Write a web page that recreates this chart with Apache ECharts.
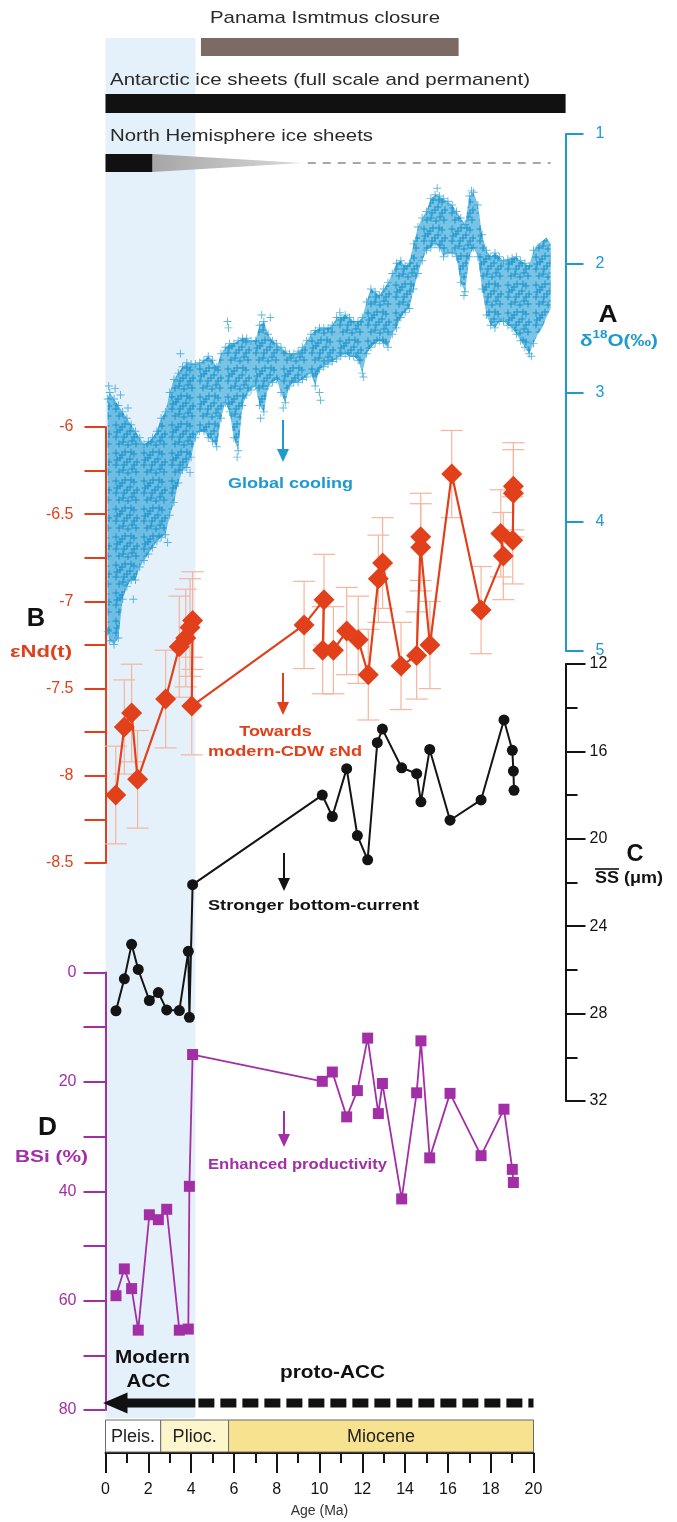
<!DOCTYPE html>
<html>
<head>
<meta charset="utf-8">
<script src="https://cdn.jsdelivr.net/npm/echarts/dist/echarts.min.js"></script>
<style>
html,body{margin:0;padding:0;background:#ffffff;}
#chart{width:677px;height:1522px;}
</style>
</head>
<body>
<div id="chart"></div>
<script>
// ================= DATA =================
// A: benthic d18O cloud (upper / lower envelope of the point cloud, per age)
const d18Age = [0.1,0.2,0.4,0.6,0.8,1.0,1.2,1.4,1.6,1.8,2.0,2.2,2.4,2.6,2.8,3.0,3.2,3.4,3.6,3.8,4.0,4.2,4.4,4.6,4.8,5.0,5.2,5.4,5.6,5.8,6.0,6.2,6.4,6.6,6.8,7.0,7.2,7.4,7.6,7.8,8.0,8.2,8.4,8.6,8.8,9.0,9.2,9.4,9.6,9.8,10.0,10.2,10.4,10.6,10.8,11.0,11.2,11.4,11.6,11.8,12.0,12.2,12.4,12.6,12.8,13.0,13.2,13.4,13.6,13.8,14.0,14.2,14.4,14.6,14.8,15.0,15.2,15.4,15.6,15.8,16.0,16.2,16.4,16.6,16.8,17.0,17.2,17.4,17.6,17.8,18.0,18.2,18.4,18.6,18.8,19.0,19.2,19.4,19.6,19.8,20.0,20.2,20.4,20.6,20.8];
const d18Hi  = [3.05,3.0,3.05,3.1,3.15,3.2,3.25,3.3,3.35,3.4,3.38,3.35,3.3,3.2,3.15,3.0,2.9,2.85,2.8,2.77,2.78,2.78,2.77,2.75,2.72,2.75,2.8,2.7,2.65,2.62,2.62,2.6,2.58,2.58,2.6,2.6,2.48,2.45,2.55,2.6,2.62,2.65,2.68,2.7,2.7,2.68,2.65,2.6,2.55,2.52,2.5,2.5,2.5,2.48,2.42,2.42,2.4,2.42,2.45,2.45,2.42,2.3,2.2,2.22,2.25,2.2,2.15,2.08,2.0,1.98,2.02,2.0,1.85,1.72,1.65,1.6,1.5,1.47,1.48,1.5,1.52,1.55,1.6,1.65,1.7,1.48,1.45,1.55,1.78,1.9,1.95,1.92,1.95,1.98,1.97,1.96,1.95,1.98,2.0,2.02,1.9,1.85,1.83,1.8,1.85];
const d18Lo  = [4.85,4.92,4.95,4.9,4.6,4.5,4.45,4.45,4.35,4.3,4.25,4.2,4.15,4.12,4.1,3.95,3.85,3.7,3.6,3.58,3.5,3.35,3.3,3.3,3.35,3.38,3.42,3.2,3.08,3.15,3.35,3.45,3.1,3.02,2.98,2.95,3.1,3.15,2.95,2.92,2.9,3.0,3.08,2.95,2.92,2.92,2.9,2.88,2.85,2.95,2.82,2.8,2.78,2.76,2.74,2.72,2.7,2.72,2.72,2.75,2.85,2.7,2.65,2.62,2.6,2.62,2.65,2.55,2.5,2.42,2.38,2.35,2.2,2.08,1.98,1.9,1.88,1.85,1.88,1.95,1.92,1.92,1.95,2.15,2.22,1.95,1.88,1.95,2.2,2.4,2.48,2.5,2.45,2.45,2.48,2.5,2.55,2.6,2.65,2.7,2.62,2.55,2.5,2.42,2.35];
const d18Out = [[0.15,2.95],[0.45,2.97],[0.7,3.02],[1.05,3.12],[3.5,2.7],[5.7,2.45],[5.75,2.5],[7.3,2.4],[7.7,2.42],[7.25,3.2],[8.3,3.12],[10.0,3.0],[10.05,3.06],[10.95,2.38],[12.05,2.88],[15.5,1.42],[16.75,2.25],[17.1,1.44],[19.9,2.72],[20.5,1.78],[0.3,5.05],[0.55,5.02],[1.3,4.6],[2.9,4.16],[6.15,3.5],[3.95,3.62]];

// B: eNd(t) with 2-sigma error
const ndAge = [0.48,0.88,1.22,1.50,2.81,3.45,3.75,3.95,4.07,4.03,9.28,10.21,10.15,10.65,11.27,11.81,12.28,12.75,12.95,13.81,14.54,14.73,14.73,15.16,16.18,17.55,18.59,18.47,19.03,19.06,19.06];
const ndVal = [-8.11,-7.72,-7.64,-8.02,-7.56,-7.26,-7.21,-7.15,-7.11,-7.60,-7.135,-6.99,-7.28,-7.28,-7.17,-7.22,-7.42,-6.87,-6.78,-7.37,-7.31,-6.63,-6.69,-7.25,-6.27,-7.05,-6.74,-6.61,-6.65,-6.38,-6.34];
const ndErr = [0.28,0.27,0.28,0.28,0.28,0.29,0.28,0.28,0.28,0.28,0.25,0.26,0.25,0.25,0.25,0.25,0.26,0.25,0.26,0.25,0.25,0.25,0.25,0.25,0.25,0.25,0.25,0.25,0.25,0.25,0.25];

// C: mean sortable silt (um)
const ssAge = [0.49,0.88,1.22,1.53,2.05,2.47,2.86,3.45,3.87,3.92,4.07,10.13,10.6,11.27,11.77,12.25,12.7,12.94,13.84,14.54,14.74,15.15,16.1,17.55,18.62,19.01,19.06,19.09];
const ssVal = [27.87,26.41,24.83,25.98,27.4,27.04,27.83,27.86,25.15,28.17,22.1,18.0,18.98,16.79,19.85,20.96,15.6,14.98,16.75,17.02,18.31,15.91,19.15,18.22,14.56,15.95,16.9,17.78];

// D: biogenic silica (%)
const bsiAge = [0.49,0.88,1.22,1.53,2.05,2.47,2.86,3.45,3.87,3.92,4.07,10.13,10.6,11.27,11.77,12.25,12.75,12.94,13.84,14.54,14.74,15.15,16.1,17.55,18.62,19.01,19.06];
const bsiVal = [59.1,54.2,57.8,65.4,44.3,45.2,43.3,65.4,65.2,39.1,15.0,19.9,18.2,26.4,21.6,12.0,25.8,20.3,41.4,22.0,12.5,33.9,22.1,33.5,25.0,36.0,38.4];

// Events / epochs (ages in Ma)
const epochNames = ['Pleis.','Plioc.','Miocene'];
const epochStart = [0,2.58,5.75];
const epochEnd   = [2.58,5.75,20];
const panamaRange = [4.46,16.5];
const antarcticRange = [0,21.5];
const nhSolid = [0,2.2];
const nhFade = [2.2,9.17];
const nhDash = [9.17,20.8];
const shadeRange = [0,4.2];
const accModern = [0,4.2];
const accProto = [4.2,20];
const ageTickInterval = 2;

// ================= STYLE =================
const FF = '"Liberation Sans", Arial, Helvetica, sans-serif';
const BLUE = '#1e9ad0', ORANGE = '#e2401b', PURPLE = '#a32fa7', BLACK = '#141414', EB = '#f5b59c';
const L = 105.5, W = 428;

// cross texture tile for the dense d18O cloud (pure styling)
const tile = document.createElement('canvas'); tile.width = 28; tile.height = 28;
(function(){
  const tc = tile.getContext('2d');
  tc.fillStyle = 'rgba(18,140,200,0.95)';
  const spots = [[4,5],[13,4],[22,6],[8,10],[18,11],[25,14],[4,17],[12,17],[20,21],[7,24],[15,14],[24,24],[10,7],[5,12],[16,25],[22,17],[11,22],[19,4]];
  spots.forEach(function(p){ tc.fillRect(p[0]-3.5,p[1]-0.5,7,1); tc.fillRect(p[0]-0.5,p[1]-3.5,1,7); });
})();

const chart = echarts.init(document.getElementById('chart'), null, {renderer:'canvas', width:677, height:1522});

function grid(top, height){ return {left:L, width:W, top:top, height:height, outerBoundsMode:'none', containLabel:false, show:false}; }
const grids = [grid(0,1453), grid(134,517), grid(427,436), grid(664,437), grid(972.5,437.5), grid(1420,33)];

const xAxes = [];
for (let i = 0; i < 5; i++) xAxes.push({gridIndex:i, type:'value', min:0, max:20, show:false});
xAxes.push({
  gridIndex:5, type:'value', min:0, max:20, interval:ageTickInterval, position:'bottom',
  axisLine:{show:true, onZero:false, lineStyle:{color:BLACK, width:2}},
  axisTick:{show:true, length:20, lineStyle:{color:BLACK, width:2}},
  minorTick:{show:true, splitNumber:2, length:10, lineStyle:{color:BLACK, width:2}},
  axisLabel:{show:true, margin:29, color:BLACK, fontSize:16, fontFamily:FF},
  splitLine:{show:false}, minorSplitLine:{show:false},
  name:'Age (Ma)', nameLocation:'middle', nameGap:51,
  nameTextStyle:{fontSize:14, color:'#333', fontFamily:FF}
});

function yax(o){
  const c = o.color;
  const ax = Object.assign({
    type:'value', splitLine:{show:false},
    axisLine:{show:true, onZero:false, lineStyle:{color:c, width:2}},
    axisTick:{show:true, length:o.tick, lineStyle:{color:c, width:2}},
    axisLabel:{show:true, margin:o.margin, color:c, fontSize:16, fontFamily:FF}
  }, o.extra);
  if (o.fmt) ax.axisLabel.formatter = o.fmt;
  return ax;
}
const yAxes = [
  {gridIndex:0, type:'value', min:0, max:1, show:false},
  yax({color:BLUE, tick:18, margin:30, extra:{gridIndex:1, min:1, max:5, interval:1, inverse:true, position:'right', offset:32}}),
  yax({color:ORANGE, tick:21, margin:32, fmt:function(v){ return Math.abs(v*2-Math.round(v*2))<1e-6 ? String(v) : ''; }, extra:{gridIndex:2, min:-8.5, max:-6, interval:0.25, position:'left', offset:0}}),
  yax({color:BLACK, tick:20, margin:24, extra:{gridIndex:3, min:12, max:32, interval:4, inverse:true, position:'right', offset:32,
      minorTick:{show:true, splitNumber:2, length:12, lineStyle:{color:BLACK, width:2}}, minorSplitLine:{show:false}}}),
  yax({color:PURPLE, tick:22, margin:29, fmt:function(v){ return (Math.round(v)%20===0) ? String(v) : ''; }, extra:{gridIndex:4, min:0, max:80, interval:10, inverse:true, position:'left', offset:0}}),
  {gridIndex:5, type:'value', min:0, max:1, show:false}
];

const crossPath = 'path://M4.4,0H5.6V10H4.4ZM0,4.4H10V5.6H0Z';
const series = [];

// shaded "modern ACC" interval
series.push({
  type:'custom', xAxisIndex:0, yAxisIndex:0, silent:true, z:-1,
  data:[[shadeRange[0], shadeRange[1]]],
  renderItem:function(p, api){
    const x0 = api.coord([api.value(0),0])[0], x1 = api.coord([api.value(1),0])[0];
    return {type:'rect', shape:{x:x0, y:38, width:x1-x0, height:1380}, style:{fill:'#e4f0fa'}};
  }
});

// event bars on top
series.push({
  type:'custom', xAxisIndex:0, yAxisIndex:0, silent:true, z:3,
  data:[[panamaRange[0],panamaRange[1],0],[antarcticRange[0],antarcticRange[1],1],[nhSolid[0],nhSolid[1],2],[nhFade[0],nhFade[1],3],[nhDash[0],nhDash[1],4]],
  renderItem:function(p, api){
    const x0 = api.coord([api.value(0),0])[0], x1 = api.coord([api.value(1),0])[0], k = api.value(2);
    if (k===0) return {type:'rect', shape:{x:x0, y:38, width:x1-x0, height:18}, style:{fill:'#7b6b64'}};
    if (k===1) return {type:'rect', shape:{x:x0, y:94, width:x1-x0, height:19}, style:{fill:'#111111'}};
    if (k===2) return {type:'rect', shape:{x:x0, y:154, width:x1-x0, height:18}, style:{fill:'#111111'}};
    if (k===3) return {type:'polygon', shape:{points:[[x0,154],[x1,163],[x0,172]]},
      style:{fill:new echarts.graphic.LinearGradient(0,0,1,0,[{offset:0,color:'#a6a6a6'},{offset:1,color:'#d9d9d9'}])}};
    return {type:'line', shape:{x1:x0+6, y1:163, x2:x1, y2:163}, style:{stroke:'#8a8a8a', lineWidth:1.5, lineDash:[8,7]}};
  }
});

// epoch boxes
const epochFill = ['#ffffff','#fdf5cc','#f7e28f'];
series.push({
  type:'custom', xAxisIndex:5, yAxisIndex:5, silent:true, z:3,
  data: epochNames.map(function(n,i){ return [epochStart[i], epochEnd[i], i]; }),
  renderItem:function(p, api){
    const i = api.value(2);
    const x0 = api.coord([api.value(0),0])[0], x1 = api.coord([api.value(1),0])[0];
    return {type:'group', children:[
      {type:'rect', shape:{x:x0, y:1420, width:x1-x0, height:32}, style:{fill:epochFill[i], stroke:'#6b6b6b', lineWidth:1}},
      {type:'text', x:(x0+x1)/2, y:1437, style:{text:epochNames[i], font:'18px '+FF, fill:'#222', textAlign:'center', textVerticalAlign:'middle'}}
    ]};
  }
});

// d18O cloud body (envelope polygon, tint + cross texture)
series.push({
  type:'custom', xAxisIndex:1, yAxisIndex:1, silent:true, z:2,
  data:[[10,3]],
  renderItem:function(p, api){
    const pts = [];
    for (let i=0;i<d18Age.length;i++) pts.push(api.coord([d18Age[i], d18Hi[i]]));
    for (let i=d18Age.length-1;i>=0;i--) pts.push(api.coord([d18Age[i], d18Lo[i]]));
    return {type:'group', children:[
      {type:'polygon', shape:{points:pts}, style:{fill:'rgba(32,156,212,0.6)'}},
      {type:'polygon', shape:{points:pts}, style:{fill:{image:tile, repeat:'repeat'}}}
    ]};
  }
});
// d18O crosses on the fringe
const d18Pts = d18Age.map(function(a,i){ return [a, d18Hi[i]]; })
  .concat(d18Age.map(function(a,i){ return [a, d18Lo[i]]; }))
  .concat(d18Out);
series.push({
  type:'scatter', xAxisIndex:1, yAxisIndex:1, z:3, silent:true,
  symbol:crossPath, symbolSize:8, data:d18Pts,
  itemStyle:{color:BLUE, opacity:0.7}
});

// eNd error bars
series.push({
  type:'custom', xAxisIndex:2, yAxisIndex:2, silent:true, z:3,
  data: ndAge.map(function(a,i){ return [a, ndVal[i]-ndErr[i], ndVal[i]+ndErr[i]]; }),
  renderItem:function(p, api){
    const a = api.coord([api.value(0), api.value(1)]), b = api.coord([api.value(0), api.value(2)]);
    const hw = 11, st = {stroke:EB, lineWidth:1.2};
    return {type:'group', children:[
      {type:'line', shape:{x1:a[0],y1:a[1],x2:b[0],y2:b[1]}, style:st},
      {type:'line', shape:{x1:a[0]-hw,y1:a[1],x2:a[0]+hw,y2:a[1]}, style:st},
      {type:'line', shape:{x1:b[0]-hw,y1:b[1],x2:b[0]+hw,y2:b[1]}, style:st}
    ]};
  }
});
// eNd line
series.push({
  type:'line', xAxisIndex:2, yAxisIndex:2, z:5, silent:true, clip:false,
  data: ndAge.map(function(a,i){ return [a, ndVal[i]]; }),
  symbol:'diamond', symbolSize:21, showAllSymbol:true,
  itemStyle:{color:ORANGE}, lineStyle:{color:ORANGE, width:2.2}
});
// SS line
series.push({
  type:'line', xAxisIndex:3, yAxisIndex:3, z:5, silent:true, clip:false,
  data: ssAge.map(function(a,i){ return [a, ssVal[i]]; }),
  symbol:'circle', symbolSize:11, showAllSymbol:true,
  itemStyle:{color:BLACK}, lineStyle:{color:BLACK, width:2}
});
// BSi line
series.push({
  type:'line', xAxisIndex:4, yAxisIndex:4, z:5, silent:true, clip:false,
  data: bsiAge.map(function(a,i){ return [a, bsiVal[i]]; }),
  symbol:'rect', symbolSize:11, showAllSymbol:true,
  itemStyle:{color:PURPLE}, lineStyle:{color:PURPLE, width:1.8}
});
// ACC arrow (modern solid, proto dashed)
series.push({
  type:'custom', xAxisIndex:4, yAxisIndex:4, silent:true, z:6,
  data:[[accModern[0], accModern[1], accProto[1]]],
  renderItem:function(p, api){
    const X0 = api.coord([api.value(0),0])[0], X1 = api.coord([api.value(1),0])[0], X2 = api.coord([api.value(2),0])[0];
    const Y = 1403;
    return {type:'group', children:[
      {type:'polygon', shape:{points:[[X0-2.5,Y],[X0+22,Y-10.5],[X0+22,Y+10.5]]}, style:{fill:'#111'}},
      {type:'rect', shape:{x:X0+20, y:Y-4.5, width:X1-X0-20, height:9}, style:{fill:'#111'}},
      {type:'line', shape:{x1:X1+3, y1:Y, x2:X2, y2:Y}, style:{stroke:'#111', lineWidth:9, lineDash:[16,6]}}
    ]};
  }
});

// ================= TEXT / ANNOTATIONS =================
const mctx = document.createElement('canvas').getContext('2d');
function tw(text, font){ mctx.font = font; return mctx.measureText(text).width; }
function T(text, cx, cy, w, font, fill, align){
  const s = w ? w / tw(text, font) : 1;
  return {type:'text', x:cx, y:cy, scaleX:s, z:100, silent:true,
    style:{text:text, font:font, fill:fill, textAlign:align||'center', textVerticalAlign:'middle'}};
}
function arrow(x, y0, y1, color){
  return {type:'group', z:100, silent:true, children:[
    {type:'line', shape:{x1:x, y1:y0, x2:x, y2:y1-10}, style:{stroke:color, lineWidth:2}},
    {type:'polygon', shape:{points:[[x-6,y1-13],[x+6,y1-13],[x,y1]]}, style:{fill:color}}
  ]};
}
const els = [];
els.push(T('Panama Ismtmus closure', 325, 18, 230, '17px '+FF, '#2a2a2a'));
els.push(T('Antarctic ice sheets (full scale and permanent)', 320, 80, 420, '17px '+FF, '#2a2a2a'));
els.push(T('North Hemisphere ice sheets', 241.5, 136, 263, '17px '+FF, '#2a2a2a'));

els.push(T('A', 608, 315, 19, 'bold 24px '+FF, '#111'));
(function(){
  const f1 = 'bold 17px '+FF, f2 = 'bold 11px '+FF;
  const parts = [['δ',f1,0],['18',f2,-6],['O(‰)',f1,0]];
  const widths = parts.map(function(q){ return tw(q[0], q[1]); });
  const tot = widths.reduce(function(a,b){return a+b;},0);
  const s = 78 / tot; let x = 580;
  parts.forEach(function(q,i){
    els.push({type:'text', x:x, y:341+q[2], scaleX:s, z:100, silent:true,
      style:{text:q[0], font:q[1], fill:BLUE, textAlign:'left', textVerticalAlign:'middle'}});
    x += widths[i]*s;
  });
})();

els.push(T('B', 36, 619, 18.3, 'bold 25px '+FF, '#111'));
els.push(T('εNd(t)', 41, 652.5, 62, 'bold 17px '+FF, ORANGE));
els.push(T('C', 635, 855, 17, 'bold 23px '+FF, '#111'));
(function(){
  const f = 'bold 16px '+FF, s = 68 / tw('SS (μm)', f);
  els.push({type:'text', x:595, y:879, scaleX:s, z:100, silent:true, style:{text:'SS (μm)', font:f, fill:'#111', textAlign:'left', textVerticalAlign:'middle'}});
  const sw = tw('SS', f) * s;
  els.push({type:'line', z:100, silent:true, shape:{x1:595, y1:869, x2:595+sw, y2:869}, style:{stroke:'#111', lineWidth:1.6}});
})();
els.push(T('D', 47.5, 1128, 19, 'bold 25px '+FF, '#111'));
els.push(T('BSi (%)', 51.5, 1157.5, 73, 'bold 17px '+FF, PURPLE));

els.push(arrow(283, 420, 462, BLUE));
els.push(T('Global cooling', 290.5, 484, 125, 'bold 15px '+FF, BLUE));
els.push(arrow(283, 673, 715, ORANGE));
els.push(T('Towards', 275.5, 732, 72.5, 'bold 15px '+FF, ORANGE));
els.push(T('modern-CDW εNd', 285, 752, 154, 'bold 15px '+FF, ORANGE));
els.push(arrow(284, 853, 891, BLACK));
els.push(T('Stronger bottom-current', 313.5, 906, 211, 'bold 15px '+FF, BLACK));
els.push(arrow(284, 1111, 1147, PURPLE));
els.push(T('Enhanced productivity', 297.5, 1165, 179, 'bold 15px '+FF, PURPLE));

els.push(T('Modern', 152.5, 1358, 75, 'bold 19px '+FF, '#111'));
els.push(T('ACC', 148.5, 1382, 44, 'bold 19px '+FF, '#111'));
els.push(T('proto-ACC', 332.5, 1373, 105, 'bold 19px '+FF, '#111'));

chart.setOption({
  animation:false,
  backgroundColor:'#ffffff',
  textStyle:{fontFamily:FF},
  grid:grids,
  xAxis:xAxes,
  yAxis:yAxes,
  series:series,
  graphic:{elements:els}
});
</script>
</body>
</html>
